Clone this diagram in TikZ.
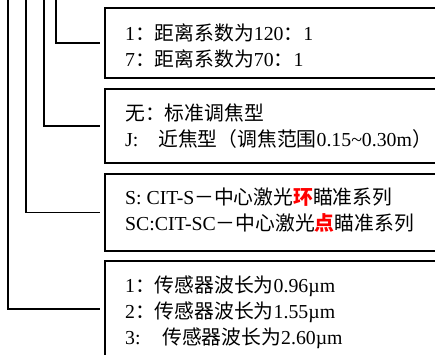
\documentclass[tikz,border=0pt]{standalone}
\usepackage{fontspec}
\setmainfont{Liberation Serif}
\newfontfamily\cjk{Noto Sans CJK SC}
\newcommand{\zh}[1]{{\cjk #1}}
\begin{document}
\begin{tikzpicture}[x=1pt,y=-1pt,
  box/.style={draw, line width=1.6pt, rectangle, anchor=north west, minimum width=345pt, inner sep=0pt},
  txt/.style={anchor=west, align=left, inner sep=0pt, font=\fontsize{19.8}{26}\selectfont},
  conn/.style={line width=1.4pt, line join=miter}]
\useasboundingbox (0,0) rectangle (435,354);
\clip (0,0) rectangle (435,354);
\node[box, minimum height=70pt] (b1) at (104,7) {};
\node[box, minimum height=74pt] (b2) at (104,88) {};
\node[box, minimum height=77pt] (b3) at (104,173) {};
\node[box, minimum height=96pt] (b4) at (104,260) {};
\node[txt] (t1) at (125,45.5) {1\zh{：距离系数为}120\zh{：}1\\7\zh{：距离系数为}70\zh{：}1};
\node[txt] (t2) at (125,126.5) {\zh{无：标准调焦型}\\J:\hspace{1em}\zh{近焦型（调焦范围}0.15\textasciitilde0.30m\zh{）}};
\node[txt] (t3) at (125,210) {S: CIT-S\zh{－中心激光{\color{red}\bfseries 环}瞄准系列}\\SC:CIT-SC\zh{－中心激光{\color{red}\bfseries 点}瞄准系列}};
\node[txt] (t4) at (125,312) {1\zh{：传感器波长为}0.96µm\\2\zh{：传感器波长为}1.55µm\\3:\hspace{1.1em}\zh{传感器波长为}2.60µm};
\coordinate (s1) at (8,-2);
\coordinate (s2) at (26,-2);
\coordinate (s3) at (44,-2);
\coordinate (s4) at (56,-2);
\draw[conn] (s4) |- ([xshift=-4pt]b1.west);
\draw[conn] (s3) |- ([xshift=-4pt]b2.west);
\draw[conn] (s2) |- ([xshift=-4pt]b3.west);
\draw[conn] (s1) |- ([xshift=-4pt]b4.west);
\end{tikzpicture}
\end{document}
